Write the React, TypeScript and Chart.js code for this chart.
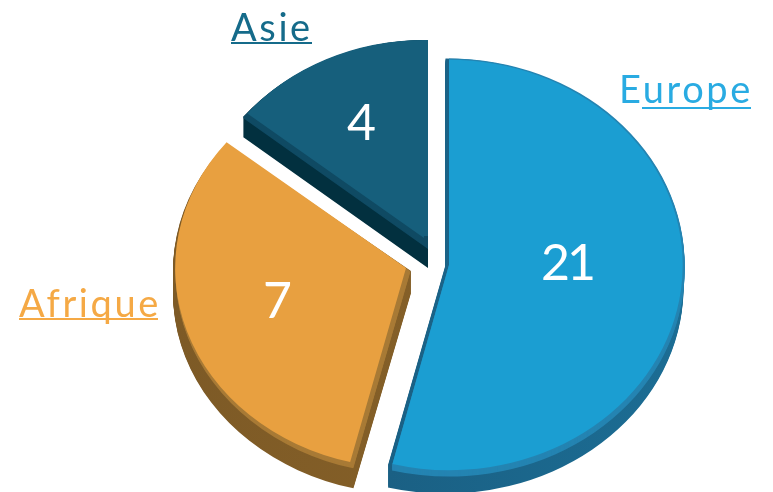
import React, { useEffect, useRef } from "react";
import { Chart, registerables } from "chart.js";

Chart.register(...registerables);

const categories = ["Europe", "Afrique", "Asie"];
// Numbers printed on the slices in the reference.
const printedValues = [21, 7, 4];
// Slice sweep as drawn in the reference (degrees);
// the reference's slices are not proportional to its printed numbers.
const drawnSweep = [194, 115, 51];
const sliceColors = ["#1b9ed2", "#e8a040", "#165f7c"];

type Look = {
  apex: [number, number];
  sx: number;
  sy: number;
  bevelApex: [number, number];
  bsx: number;
  bsy: number;
  bevel: string;
  bevelDepth: number;
  sideApex: [number, number];
  side: [string, string];
  depth: number;
  strip?: [number, number, number, number];
};

const R = 238;
const looks: Look[] = [
  { apex: [449, 265], sx: 0.982, sy: 0.862, bevelApex: [449, 265], bsx: 0.99, bsy: 0.868, bevel: "#2484b2", bevelDepth: 5, sideApex: [445.5, 265], side: ["#19587a", "#1c6d94"], depth: 22 },
  { apex: [406, 268], sx: 0.97, sy: 0.84, bevelApex: [410, 271], bsx: 0.985, bsy: 0.846, bevel: "#a87a35", bevelDepth: 2, sideApex: [411, 271], side: ["#7d5a26", "#8b6429"], depth: 22 },
  { apex: [424, 238], sx: 0.955, sy: 0.832, bevelApex: [428, 248], bsx: 1.0, bsy: 0.874, bevel: "#0f4a63", bevelDepth: 1, sideApex: [428, 248], side: ["#02303f", "#02303f"], depth: 20, strip: [424, 30, 6, 206] },
];

const textFont = "Lato, sans-serif";

function drawArc(ctx: CanvasRenderingContext2D, arc: any, fill: any, ax: number, ay: number, sx: number, sy: number) {
  const saved = arc.options;
  const o = Object.create(saved);
  o.backgroundColor = fill;
  arc.options = o;
  ctx.save();
  ctx.translate(ax, ay);
  ctx.scale(sx, sy);
  ctx.translate(-arc.x, -arc.y);
  arc.draw(ctx);
  ctx.restore();
  arc.options = saved;
}

const pie3d = {
  id: "pie3d",
  beforeDatasetDraw(chart: any) {
    const ctx: CanvasRenderingContext2D = chart.ctx;
    const arcs = chart.getDatasetMeta(0).data;
    arcs.forEach((arc: any, i: number) => {
      const l = looks[i];
      const g = ctx.createLinearGradient(arc.x - R, 0, arc.x + R, 0);
      g.addColorStop(0, l.side[0]);
      g.addColorStop(1, l.side[1]);
      for (let d = l.depth; d >= 0; d--) {
        drawArc(ctx, arc, g, l.sideApex[0], l.sideApex[1] + d, 1, l.bsy);
      }
      for (let d = l.bevelDepth; d >= 0; d--) {
        drawArc(ctx, arc, l.bevel, l.bevelApex[0], l.bevelApex[1] + d, l.bsx, l.bsy);
      }
      if (l.strip) {
        ctx.save();
        ctx.beginPath();
        ctx.rect(l.strip[0], l.strip[1], l.strip[2], l.strip[3]);
        ctx.clip();
        drawArc(ctx, arc, arc.options.backgroundColor, l.bevelApex[0], l.bevelApex[1], l.bsx, l.bsy);
        ctx.restore();
      }
      drawArc(ctx, arc, arc.options.backgroundColor, l.apex[0], l.apex[1], l.sx, l.sy);
    });
    return false;
  },
  afterDatasetsDraw(chart: any) {
    const ctx: CanvasRenderingContext2D = chart.ctx;
    ctx.save();
    ctx.textBaseline = "alphabetic";
    // printed values
    ctx.fillStyle = "#ffffff";
    ctx.textAlign = "center";
    ctx.font = `50px ${textFont}`;
    (ctx as any).letterSpacing = "-3px";
    const valuePos = [[567, 280], [276, 318], [360, 140]];
    printedValues.forEach((v, i) => ctx.fillText(String(v), valuePos[i][0], valuePos[i][1]));
    // category names
    ctx.textAlign = "left";
    ctx.font = `38px ${textFont}`;
    (ctx as any).letterSpacing = "2.6px";
    const namePos = [
      { x: 619, y: 103, c: "#29abe2", ux: 642, uw: 109, uy: 107 },
      { x: 19, y: 317, c: "#f5a945", ux: 19, uw: 139, uy: 318 },
      { x: 231, y: 41, c: "#156b8a", ux: 231, uw: 81, uy: 42 },
    ];
    categories.forEach((name, i) => {
      const p = namePos[i];
      ctx.fillStyle = p.c;
      ctx.fillText(name, p.x, p.y);
      ctx.fillRect(p.ux, p.uy, p.uw, 2);
    });
    ctx.restore();
  },
};

export default function App() {
  const ref = useRef<HTMLCanvasElement>(null);
  useEffect(() => {
    document.body.style.margin = "0";
    const chart = new Chart(ref.current!, {
      type: "pie",
      data: {
        labels: categories,
        datasets: [
          {
            data: drawnSweep,
            backgroundColor: sliceColors,
            borderWidth: 0,
            radius: R,
          } as any,
        ],
      },
      options: {
        responsive: false,
        animation: false,
        layout: { padding: 0 },
        plugins: { legend: { display: false }, tooltip: { enabled: false } },
      },
      plugins: [pie3d as any],
    });
    return () => chart.destroy();
  }, []);
  return (
    <div style={{ position: "absolute", left: 0, top: 0, width: 773, height: 492, background: "#fff" }}>
      <canvas ref={ref} width={773} height={492} style={{ display: "block" }} />
    </div>
  );
}
